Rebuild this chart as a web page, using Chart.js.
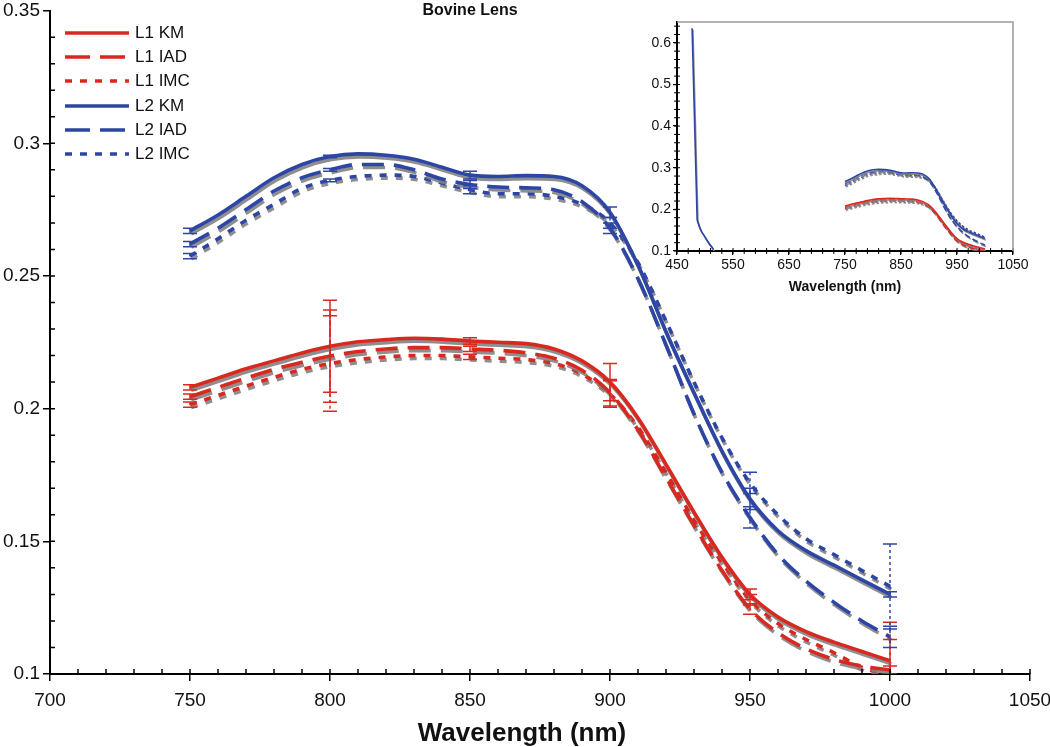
<!DOCTYPE html>
<html>
<head>
<meta charset="utf-8">
<script src="https://cdn.jsdelivr.net/npm/chart.js@4.4.0/dist/chart.umd.min.js"></script>
<style>
  body { margin: 0; background: #fff; font-family: "Liberation Sans", Arial, sans-serif; }
  #wrap { position: relative; width: 1050px; height: 747px; }
  #main { position: absolute; left: 0; top: 0; }
  #inset { position: absolute; left: 627px; top: 8px; }
  #legend { position: absolute; left: 65px; top: 21px; }
  .row { display: flex; align-items: center; height: 24.2px; }
  .row span { font-size: 17px; color: #111; margin-left: 6px; }
</style>
</head>
<body>
<div id="wrap">
  <canvas id="main" width="1050" height="747"></canvas>
  <canvas id="inset" width="410" height="294"></canvas>
  <div id="legend"></div>
</div>
<script>
// wavelengths (nm) and values
var wavelengths = [750, 760, 770, 780, 790, 800, 810, 820, 830, 840, 850, 860, 870,
                   880, 890, 900, 910, 920, 930, 940, 950, 960, 970, 980, 990, 1000];

var l1KM  = [0.208, 0.2115, 0.215, 0.218, 0.221, 0.2235, 0.2252, 0.226, 0.2265, 0.2262, 0.2255, 0.225, 0.2245,
             0.2225, 0.218, 0.210, 0.1965, 0.179, 0.161, 0.144, 0.130, 0.1215, 0.116, 0.112, 0.1085, 0.105];
var l1IAD = [0.2045, 0.208, 0.2115, 0.2148, 0.2175, 0.2198, 0.2215, 0.2225, 0.223, 0.223, 0.2225, 0.222, 0.221,
             0.219, 0.2145, 0.206, 0.192, 0.174, 0.156, 0.139, 0.1245, 0.1155, 0.1095, 0.1055, 0.103, 0.1015];
var l1IMC = [0.2015, 0.205, 0.2085, 0.2118, 0.2148, 0.217, 0.2185, 0.2195, 0.22, 0.22, 0.2195, 0.219, 0.2185,
             0.217, 0.213, 0.2055, 0.193, 0.176, 0.158, 0.142, 0.128, 0.119, 0.113, 0.108, 0.1025, 0.0995];
var l2KM  = [0.267, 0.273, 0.280, 0.287, 0.292, 0.295, 0.296, 0.2955, 0.294, 0.291, 0.288, 0.2875, 0.2878,
             0.2875, 0.284, 0.274, 0.254, 0.229, 0.206, 0.184, 0.166, 0.154, 0.1465, 0.141, 0.1355, 0.130];
var l2IAD = [0.262, 0.268, 0.275, 0.282, 0.287, 0.290, 0.292, 0.292, 0.290, 0.2865, 0.2845, 0.2835, 0.2832,
             0.2825, 0.278, 0.268, 0.249, 0.224, 0.198, 0.176, 0.159, 0.145, 0.135, 0.127, 0.120, 0.114];
var l2IMC = [0.2575, 0.264, 0.271, 0.277, 0.283, 0.286, 0.2875, 0.288, 0.2875, 0.285, 0.2825, 0.281, 0.281,
             0.280, 0.277, 0.270, 0.255, 0.233, 0.210, 0.189, 0.172, 0.160, 0.151, 0.145, 0.139, 0.133];

// error bar half-widths at these wavelengths
var errWl     = [750, 800, 850, 900, 950, 1000];
var errL1KM   = [0.001, 0.0173, 0.0012, 0.007, 0.002, 0.008];
var errL1IAD  = [0.001, 0.0174, 0.001, 0.005, 0.002, 0.0015];
var errL1IMC  = [0.001, 0.018, 0.001, 0.005, 0.002, 0.020];
var errL2KM   = [0.001, 0.0005, 0.0015, 0.002, 0.004, 0.001];
var errL2IAD  = [0.001, 0.0005, 0.0015, 0.002, 0.004, 0.004];
var errL2IMC  = [0.001, 0.0005, 0.0015, 0.002, 0.004, 0.016];

// inset: short wavelength part of L2
var uvWl = [477, 480, 483, 486, 490, 494, 498, 503, 508, 512, 515];
var uvL2 = [0.635, 0.482, 0.328, 0.175, 0.158, 0.146, 0.138, 0.127, 0.117, 0.110, 0.104];

var seriesNames = ["L1 KM", "L1 IAD", "L1 IMC", "L2 KM", "L2 IAD", "L2 IMC"];
var xTicksMain = [700, 1050, 50];
var yTicksMain = [0.1, 0.35, 0.05];

var RED = "#d8281f", BLUE = "#2d46a5";
var FONT = '"Liberation Sans", Arial, sans-serif';

function pts(xs, ys) { return xs.map(function (x, i) { return { x: x, y: ys[i] }; }); }

var styles = [
  { c: RED, dash: [], errDash: [] },
  { c: RED, dash: [22, 10], errDash: [7, 3] },
  { c: RED, dash: [7, 8], errDash: [3, 3] },
  { c: BLUE, dash: [], errDash: [] },
  { c: BLUE, dash: [22, 10], errDash: [7, 3] },
  { c: BLUE, dash: [7, 8], errDash: [3, 3] }
];
var allSeries = [l1KM, l1IAD, l1IMC, l2KM, l2IAD, l2IMC];
var allErrs = [errL1KM, errL1IAD, errL1IMC, errL2KM, errL2IAD, errL2IMC];

// gray copy of every line, slightly offset
var shadowPlugin = {
  id: 'shadow',
  beforeDatasetDraw: function (chart, args, o) {
    var c = chart.ctx;
    c.save();
    c.shadowColor = 'rgba(130,130,130,0.9)';
    c.shadowOffsetX = o.dx; c.shadowOffsetY = o.dy; c.shadowBlur = 0;
  },
  afterDatasetDraw: function (chart) { chart.ctx.restore(); }
};

var errorBarPlugin = {
  id: 'errorBars',
  afterDatasetsDraw: function (chart) {
    var ctx = chart.ctx, x = chart.scales.x, y = chart.scales.y, a = chart.chartArea;
    ctx.save();
    ctx.beginPath();
    ctx.rect(a.left, a.top, a.right - a.left, a.bottom - a.top);
    ctx.clip();
    chart.data.datasets.forEach(function (ds) {
      if (!ds.errs) return;
      ctx.strokeStyle = ds.borderColor;
      ctx.lineWidth = 1.5;
      errWl.forEach(function (wl, k) {
        var p = ds.data.find(function (d) { return d.x === wl; });
        if (!p) return;
        var px = x.getPixelForValue(wl);
        var top = y.getPixelForValue(p.y + ds.errs[k]);
        var bot = y.getPixelForValue(p.y - ds.errs[k]);
        ctx.setLineDash(ds.errDash);
        ctx.beginPath(); ctx.moveTo(px, top); ctx.lineTo(px, bot); ctx.stroke();
        ctx.setLineDash([]);
        ctx.beginPath();
        ctx.moveTo(px - 7, top); ctx.lineTo(px + 7, top);
        ctx.moveTo(px - 7, bot); ctx.lineTo(px + 7, bot);
        ctx.stroke();
      });
    });
    ctx.restore();
  }
};

// small ticks between the labelled ones
var minorTickPlugin = {
  id: 'minorTicks',
  afterDraw: function (chart, args, o) {
    var ctx = chart.ctx, a = chart.chartArea, x = chart.scales.x, y = chart.scales.y;
    ctx.save();
    ctx.strokeStyle = '#000';
    ctx.lineWidth = o.w;
    ctx.beginPath();
    var n = Math.round((x.max - x.min) / o.xStep);
    for (var i = 0; i <= n; i++) {
      var px = x.getPixelForValue(x.min + i * o.xStep);
      ctx.moveTo(px, a.bottom + o.out); ctx.lineTo(px, a.bottom - o.len);
    }
    var m = Math.round((y.max - y.min) / o.yStep);
    for (var j = 0; j < m; j++) {
      var py = y.getPixelForValue(y.min + j * o.yStep);
      ctx.moveTo(a.left - o.out, py); ctx.lineTo(a.left + o.len, py);
    }
    ctx.stroke();
    if (o.box) {
      ctx.strokeStyle = '#999';
      ctx.lineWidth = 1.5;
      ctx.beginPath();
      ctx.moveTo(a.left, a.top); ctx.lineTo(a.right, a.top); ctx.lineTo(a.right, a.bottom);
      ctx.stroke();
    }
    ctx.restore();
  }
};

var textPlugin = {
  id: 'texts',
  afterDraw: function (chart, args, o) {
    var ctx = chart.ctx;
    ctx.save();
    ctx.fillStyle = '#111';
    ctx.textAlign = 'center';
    ctx.textBaseline = 'middle';
    o.items.forEach(function (t) {
      ctx.font = t.font;
      ctx.fillText(t.text, t.x, t.y);
    });
    ctx.restore();
  }
};

function plain(v) { return String(+v.toFixed(2)); }

var mainDatasets = allSeries.map(function (s, i) {
  return {
    label: seriesNames[i],
    data: pts(wavelengths, s),
    borderColor: styles[i].c,
    borderDash: styles[i].dash,
    borderWidth: 3.6,
    borderCapStyle: 'butt',
    pointRadius: 0,
    cubicInterpolationMode: 'monotone',
    errs: allErrs[i],
    errDash: styles[i].errDash
  };
});

new Chart(document.getElementById('main'), {
  type: 'line',
  data: { datasets: mainDatasets },
  options: {
    responsive: false,
    devicePixelRatio: 1,
    animation: false,
    layout: { padding: { left: 0, right: 20, top: 8, bottom: 0 } },
    plugins: {
      legend: { display: false },
      tooltip: { enabled: false },
      shadow: { dx: 1.2, dy: 3 },
      minorTicks: { xStep: 10, yStep: 0.01, len: 5, out: 0, w: 1.5 },
      texts: { items: [
        { text: 'Bovine Lens', x: 470, y: 11, font: 'bold 16px ' + FONT },
        { text: 'Wavelength (nm)', x: 522, y: 734, font: 'bold 26px ' + FONT }
      ] }
    },
    scales: {
      x: {
        type: 'linear', min: xTicksMain[0], max: xTicksMain[1],
        afterFit: function (s) { s.height = 73; s.paddingRight = 20; },
        border: { color: '#000', width: 2 },
        grid: { drawOnChartArea: false, tickLength: 7, color: '#000', lineWidth: 1.5 },
        ticks: { stepSize: xTicksMain[2], color: '#111', padding: 8, maxRotation: 0,
                 font: { family: FONT, size: 19 }, callback: plain }
      },
      y: {
        min: yTicksMain[0], max: yTicksMain[1],
        afterFit: function (s) { s.width = 50; },
        border: { color: '#000', width: 2 },
        grid: { drawOnChartArea: false, tickLength: 7, color: '#000', lineWidth: 1.5 },
        ticks: { stepSize: yTicksMain[2], color: '#111', padding: 3,
                 font: { family: FONT, size: 19, lineHeight: 0.8 }, callback: plain }
      }
    }
  },
  plugins: [shadowPlugin, errorBarPlugin, minorTickPlugin, textPlugin]
});

// inset chart
var insetDatasets = allSeries.map(function (s, i) {
  var d = styles[i].dash.length ? (styles[i].dash[0] > 10 ? [6, 3] : [2.5, 2]) : [];
  return {
    data: pts(wavelengths, s),
    borderColor: styles[i].c,
    borderDash: d,
    borderWidth: 1.6,
    pointRadius: 0,
    cubicInterpolationMode: 'monotone'
  };
});
insetDatasets.push({
  data: pts(uvWl, uvL2),
  borderColor: BLUE,
  borderWidth: 1.6,
  pointRadius: 0,
  tension: 0
});

new Chart(document.getElementById('inset'), {
  type: 'line',
  data: { datasets: insetDatasets },
  options: {
    responsive: false,
    devicePixelRatio: 1,
    animation: false,
    layout: { padding: { left: 0, right: 24, top: 14, bottom: 0 } },
    plugins: {
      legend: { display: false },
      tooltip: { enabled: false },
      shadow: { dx: 0.8, dy: 1.5 },
      minorTicks: { xStep: 20, yStep: 0.02, len: 3, out: 3, w: 1, box: true },
      texts: { items: [
        { text: 'Wavelength (nm)', x: 218, y: 279, font: 'bold 14px ' + FONT }
      ] }
    },
    scales: {
      x: {
        type: 'linear', min: 450, max: 1050,
        afterFit: function (s) { s.height = 51; },
        border: { color: '#000', width: 2 },
        grid: { drawOnChartArea: false, tickLength: 4, color: '#000', lineWidth: 1.2 },
        ticks: { stepSize: 100, color: '#111', padding: 2, maxRotation: 0,
                 font: { family: FONT, size: 14 }, callback: plain }
      },
      y: {
        min: 0.1, max: 0.65,
        afterFit: function (s) { s.width = 50; },
        border: { color: '#000', width: 2 },
        grid: { drawOnChartArea: false, tickLength: 4, color: '#000', lineWidth: 1.2 },
        ticks: { stepSize: 0.1, includeBounds: false, color: '#111', padding: 2,
                 font: { family: FONT, size: 14, lineHeight: 0.8 }, callback: plain }
      }
    }
  },
  plugins: [shadowPlugin, minorTickPlugin, textPlugin]
});

// legend
var legend = document.getElementById('legend');
seriesNames.forEach(function (name, i) {
  var row = document.createElement('div');
  row.className = 'row';
  var da = styles[i].dash.length ? (styles[i].dash[0] > 10 ? '25 10' : '7 8') : 'none';
  row.innerHTML = '<svg width="64" height="8"><line x1="0" y1="4" x2="64" y2="4" stroke="' +
    styles[i].c + '" stroke-width="3.6" stroke-dasharray="' + da + '"/></svg><span>' + name + '</span>';
  legend.appendChild(row);
});
</script>
</body>
</html>
